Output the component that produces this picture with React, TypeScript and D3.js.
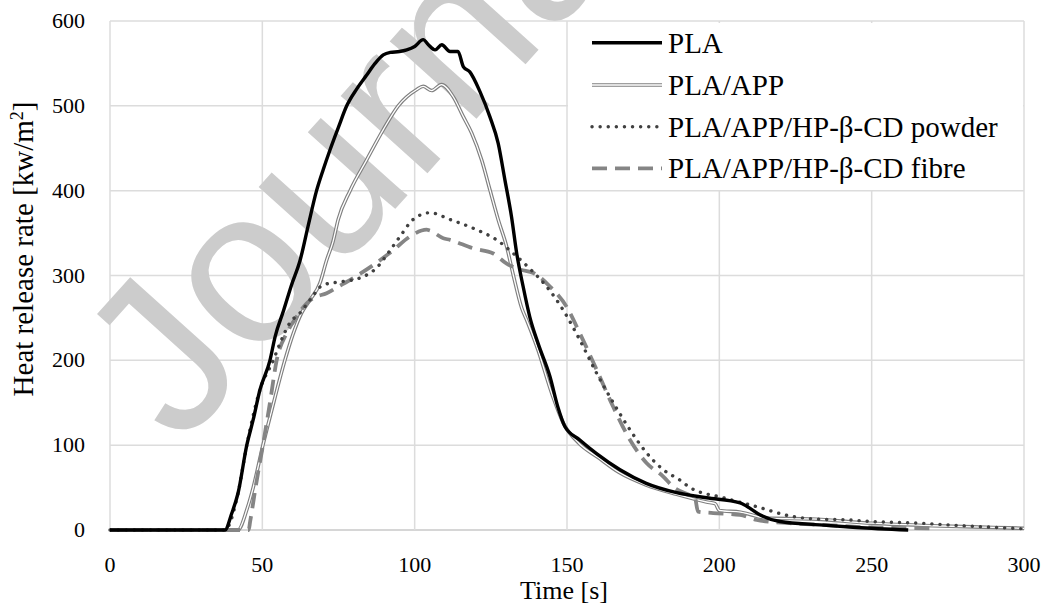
import React from "react";
import * as d3 from "d3";

const xTicks = [0, 50, 100, 150, 200, 250, 300];
const yTicks = [0, 100, 200, 300, 400, 500, 600];

const plaT = [0, 37.7, 40, 42, 44.9, 47, 49.2, 52.5, 54.2, 57, 59.5, 62.4, 65, 67.8, 70, 72.2, 75, 77.7, 81, 84.2, 87, 89.7, 92, 95, 97.4, 100, 102.8, 104.5, 106.7, 108.9, 111.6, 114.2, 116, 118.1, 121.4, 124.7, 127.4, 129.6, 131.8, 133.5, 135.6, 137.8, 140.5, 144.4, 147, 149.3, 154.2, 159.7, 167.4, 176, 186, 195.8, 206.8, 209, 213.3, 219.9, 233, 245, 262];
const plaV = [0, 0, 20, 43, 100, 130, 165, 200, 228, 259, 288, 318, 358, 400, 425, 448, 475, 500, 520, 536, 550, 560, 563, 564, 566, 570, 578, 572, 566, 572, 564, 564, 546, 540, 517, 487, 456, 413, 369, 326, 287, 251, 220, 181, 145, 122, 106, 90, 71, 55, 44, 38, 32, 28, 18, 10, 6, 3, 0];

const appT = [0, 42, 45, 47, 50.2, 53, 57.4, 60, 62.9, 65.6, 68.9, 71.1, 73.2, 74.9, 78.8, 84.2, 89.7, 94.6, 100.6, 102.8, 105.6, 108.8, 112.6, 116, 118.7, 122, 124.7, 127.4, 130.2, 132.4, 135.1, 136.7, 140.5, 145, 148.8, 154, 160, 167, 176, 186, 195.8, 198.6, 200, 207, 215.5, 230, 250, 270, 290, 300];
const appV = [0, 0, 25, 50, 100, 140, 200, 230, 256, 271, 291, 318, 340, 366, 400, 436, 472, 500, 519, 523, 518, 525, 511, 487, 468, 436, 401, 366, 334, 300, 262, 248, 212, 161, 126, 102, 86, 68, 53, 42, 33, 31, 23, 21, 14, 13, 8, 5, 3, 2];

const powT = [0, 37.7, 42, 44.9, 49.2, 53.6, 55.8, 59, 62.4, 65.6, 70, 76.5, 82, 87.5, 92, 95.2, 99.5, 105, 111.6, 120.3, 126.9, 132.4, 137.8, 143.3, 148.8, 154.2, 159.7, 165.2, 170.7, 176.1, 181.6, 187, 190.4, 201.3, 212.3, 223.2, 234, 242, 250, 265.8, 280, 300];
const powV = [0, 0, 43, 100, 165, 200, 220, 244, 256, 271, 289, 293, 297, 309, 330, 346, 366, 374, 366, 354, 342, 326, 308, 287, 259, 224, 185, 150, 118, 91, 71, 59, 50, 38, 27.5, 16.5, 12.6, 12, 10, 8, 5, 1.5];

const fibT = [0, 45.5, 46, 48, 50.2, 52.5, 54.7, 58, 61, 64.5, 67, 71.1, 75, 79.8, 87.5, 93, 98.5, 103.9, 105, 109.4, 111.6, 119.2, 125.8, 130.2, 134.6, 139, 144.4, 149.9, 154.2, 159.7, 165.2, 170.7, 176.1, 181.6, 184.8, 190.4, 192, 193, 198, 206.8, 212.3, 223, 234, 250, 271];
const fibV = [0, 0, 10, 55, 100, 150, 200, 232, 250, 267, 274, 279, 287, 297, 315, 330, 346, 354, 353, 344, 342, 332, 326, 314, 307, 303, 287, 263, 232, 189, 145, 106, 79, 63, 51, 41, 38, 21.6, 20, 17.7, 11.8, 8, 6, 3, 2];

const seriesNames = ["PLA", "PLA/APP", "PLA/APP/HP-β-CD powder", "PLA/APP/HP-β-CD fibre"];

const W = 1044, H = 604;
const x = d3.scaleLinear().domain([0, 300]).range([110, 1024]);
const y = d3.scaleLinear().domain([0, 600]).range([530, 21]);
const FONT = "'Liberation Serif', 'Times New Roman', serif";

function pts(t: number[], v: number[]): [number, number][] {
  return t.map((ti, i) => [ti, v[i]]);
}
const line = d3.line<[number, number]>().x(d => x(d[0])).y(d => y(d[1])).curve(d3.curveMonotoneX);

const DOT = "0.1 8";
const DASH = "15 8";

export default function App() {
  const legendY = [42.7, 85, 126.7, 168.3];
  const lx0 = 592, lx1 = 662;
  return (
    <svg width={W} height={H} style={{ position: "absolute", left: 0, top: 0 }}>
      <rect width={W} height={H} fill="#fff" />
      {/* grid */}
      {yTicks.map(t => (
        <line key={"gy" + t} x1={x(0)} x2={x(300)} y1={y(t)} y2={y(t)} stroke={t === 0 ? "#c8c8c8" : "#dcdcdc"} strokeWidth={1.5} />
      ))}
      {xTicks.map(t => (
        <line key={"gx" + t} x1={x(t)} x2={x(t)} y1={y(0)} y2={y(600)} stroke="#dcdcdc" strokeWidth={1.5} />
      ))}
      {/* watermark */}
      <text transform="translate(180,448) rotate(-48)" fontFamily="'Liberation Sans', Arial, sans-serif" fontSize={220} fill="#cccccc">Journal Pre-proof</text>
      {/* legend box */}
      <rect x={568} y={23} width={455} height={167} fill="#fff" />
      {/* series */}
      <path d={line(pts(appT, appV)) || ""} fill="none" stroke="#7f7f7f" strokeWidth={3.6} />
      <path d={line(pts(appT, appV)) || ""} fill="none" stroke="#fff" strokeWidth={1.3} />
      <path d={line(pts(fibT, fibV)) || ""} fill="none" stroke="#858585" strokeWidth={3.8} strokeDasharray={DASH} />
      <path d={line(pts(powT, powV)) || ""} fill="none" stroke="#404040" strokeWidth={3.4} strokeDasharray={DOT} strokeLinecap="round" />
      <path d={line(pts(plaT, plaV)) || ""} fill="none" stroke="#000" strokeWidth={3.4} strokeLinejoin="round" />
      {/* legend */}
      <line x1={lx0} x2={lx1} y1={legendY[0]} y2={legendY[0]} stroke="#000" strokeWidth={3.4} />
      <line x1={lx0} x2={lx1} y1={legendY[1]} y2={legendY[1]} stroke="#7f7f7f" strokeWidth={3.6} />
      <line x1={lx0} x2={lx1} y1={legendY[1]} y2={legendY[1]} stroke="#fff" strokeWidth={1.3} />
      <line x1={lx0} x2={lx1} y1={legendY[2]} y2={legendY[2]} stroke="#404040" strokeWidth={3.4} strokeDasharray={DOT} strokeLinecap="round" />
      <line x1={lx0} x2={lx1} y1={legendY[3]} y2={legendY[3]} stroke="#858585" strokeWidth={3.8} strokeDasharray={DASH} />
      {seriesNames.map((s, i) => (
        <text key={s} x={668} y={legendY[i] + 10} fontFamily={FONT} fontSize={29} fill="#000">{s}</text>
      ))}
      {/* ticks */}
      {yTicks.map(t => (
        <text key={"ty" + t} x={85} y={y(t) + 7} textAnchor="end" fontFamily={FONT} fontSize={22} fill="#000">{t}</text>
      ))}
      {xTicks.map(t => (
        <text key={"tx" + t} x={x(t)} y={572} textAnchor="middle" fontFamily={FONT} fontSize={22} fill="#000">{t}</text>
      ))}
      <text x={564} y={599} textAnchor="middle" fontFamily={FONT} fontSize={26} fill="#000">Time [s]</text>
      <text transform="translate(33,249) rotate(-90)" textAnchor="middle" fontFamily={FONT} fontSize={29} fill="#000">Heat release rate [kw/m<tspan dy={-10} fontSize={18}>2</tspan><tspan dy={10}>]</tspan></text>
    </svg>
  );
}
